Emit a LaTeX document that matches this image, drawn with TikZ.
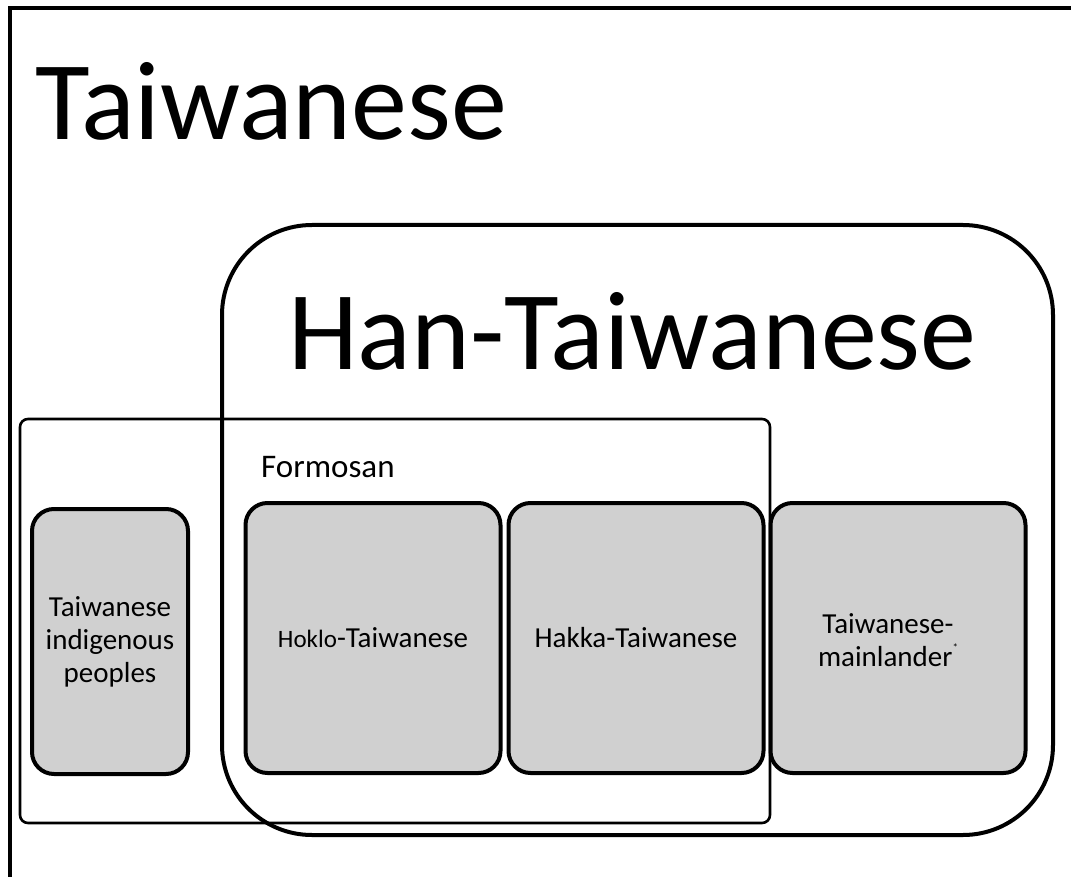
\documentclass[tikz,border=0pt]{standalone}
\usepackage{fontspec}
\setmainfont{Carlito}
\usetikzlibrary{positioning}
\definecolor{boxgray}{RGB}{208,208,208}

\begin{document}
\begin{tikzpicture}[x=1pt,y=-1pt,
  group/.style={draw,line width=4pt,rounded corners=90pt},
  formosan/.style={draw,line width=2.6pt,rounded corners=8pt},
  people/.style={draw,line width=4pt,fill=boxgray,rounded corners=22pt,
    inner sep=0,align=center,minimum height=270pt,minimum width=255pt,
    font=\fontsize{29}{33}\selectfont},
  big/.style={anchor=base west,inner sep=0,font=\fontsize{112}{130}\selectfont}]
\useasboundingbox (0,0) rectangle (1071,877);
\clip (0,0) rectangle (1071,877);
% outer frame runs off the right and bottom
\draw[line width=3.6pt] (10,900) -- (10,8) -- (1100,8);
\node[big] (taiwanese) at (35,140) {Taiwanese};
%
\draw[formosan] (20,419) rectangle (770,823);
\node[anchor=base west,inner sep=0,font=\fontsize{33}{36}\selectfont] (formosan) at (261,477) {Formosan};
\draw[group] (222,225) rectangle (1053,835);
\node[big] (han) at (288,370) {Han-Taiwanese};
%
\node[people,minimum width=156pt,minimum height=265pt] (indigenous) at (110,641.5)
  {Taiwanese\\indigenous\\peoples};
\node[people] (hoklo) at (373,638)
  {{\fontsize{25}{33}\selectfont Hoklo}-Taiwanese};
\node[people,right=4pt of hoklo] (hakka) {Hakka-Taiwanese};
\node[people,right=3pt of hakka] (mainlander) {};
\node[align=center,inner sep=0,font=\fontsize{29}{33}\selectfont] (mainlandtext) at (888,640)
  {Taiwanese-\\mainlander\raisebox{1.1ex}{\fontsize{11}{11}\selectfont *}};
\end{tikzpicture}
\end{document}
